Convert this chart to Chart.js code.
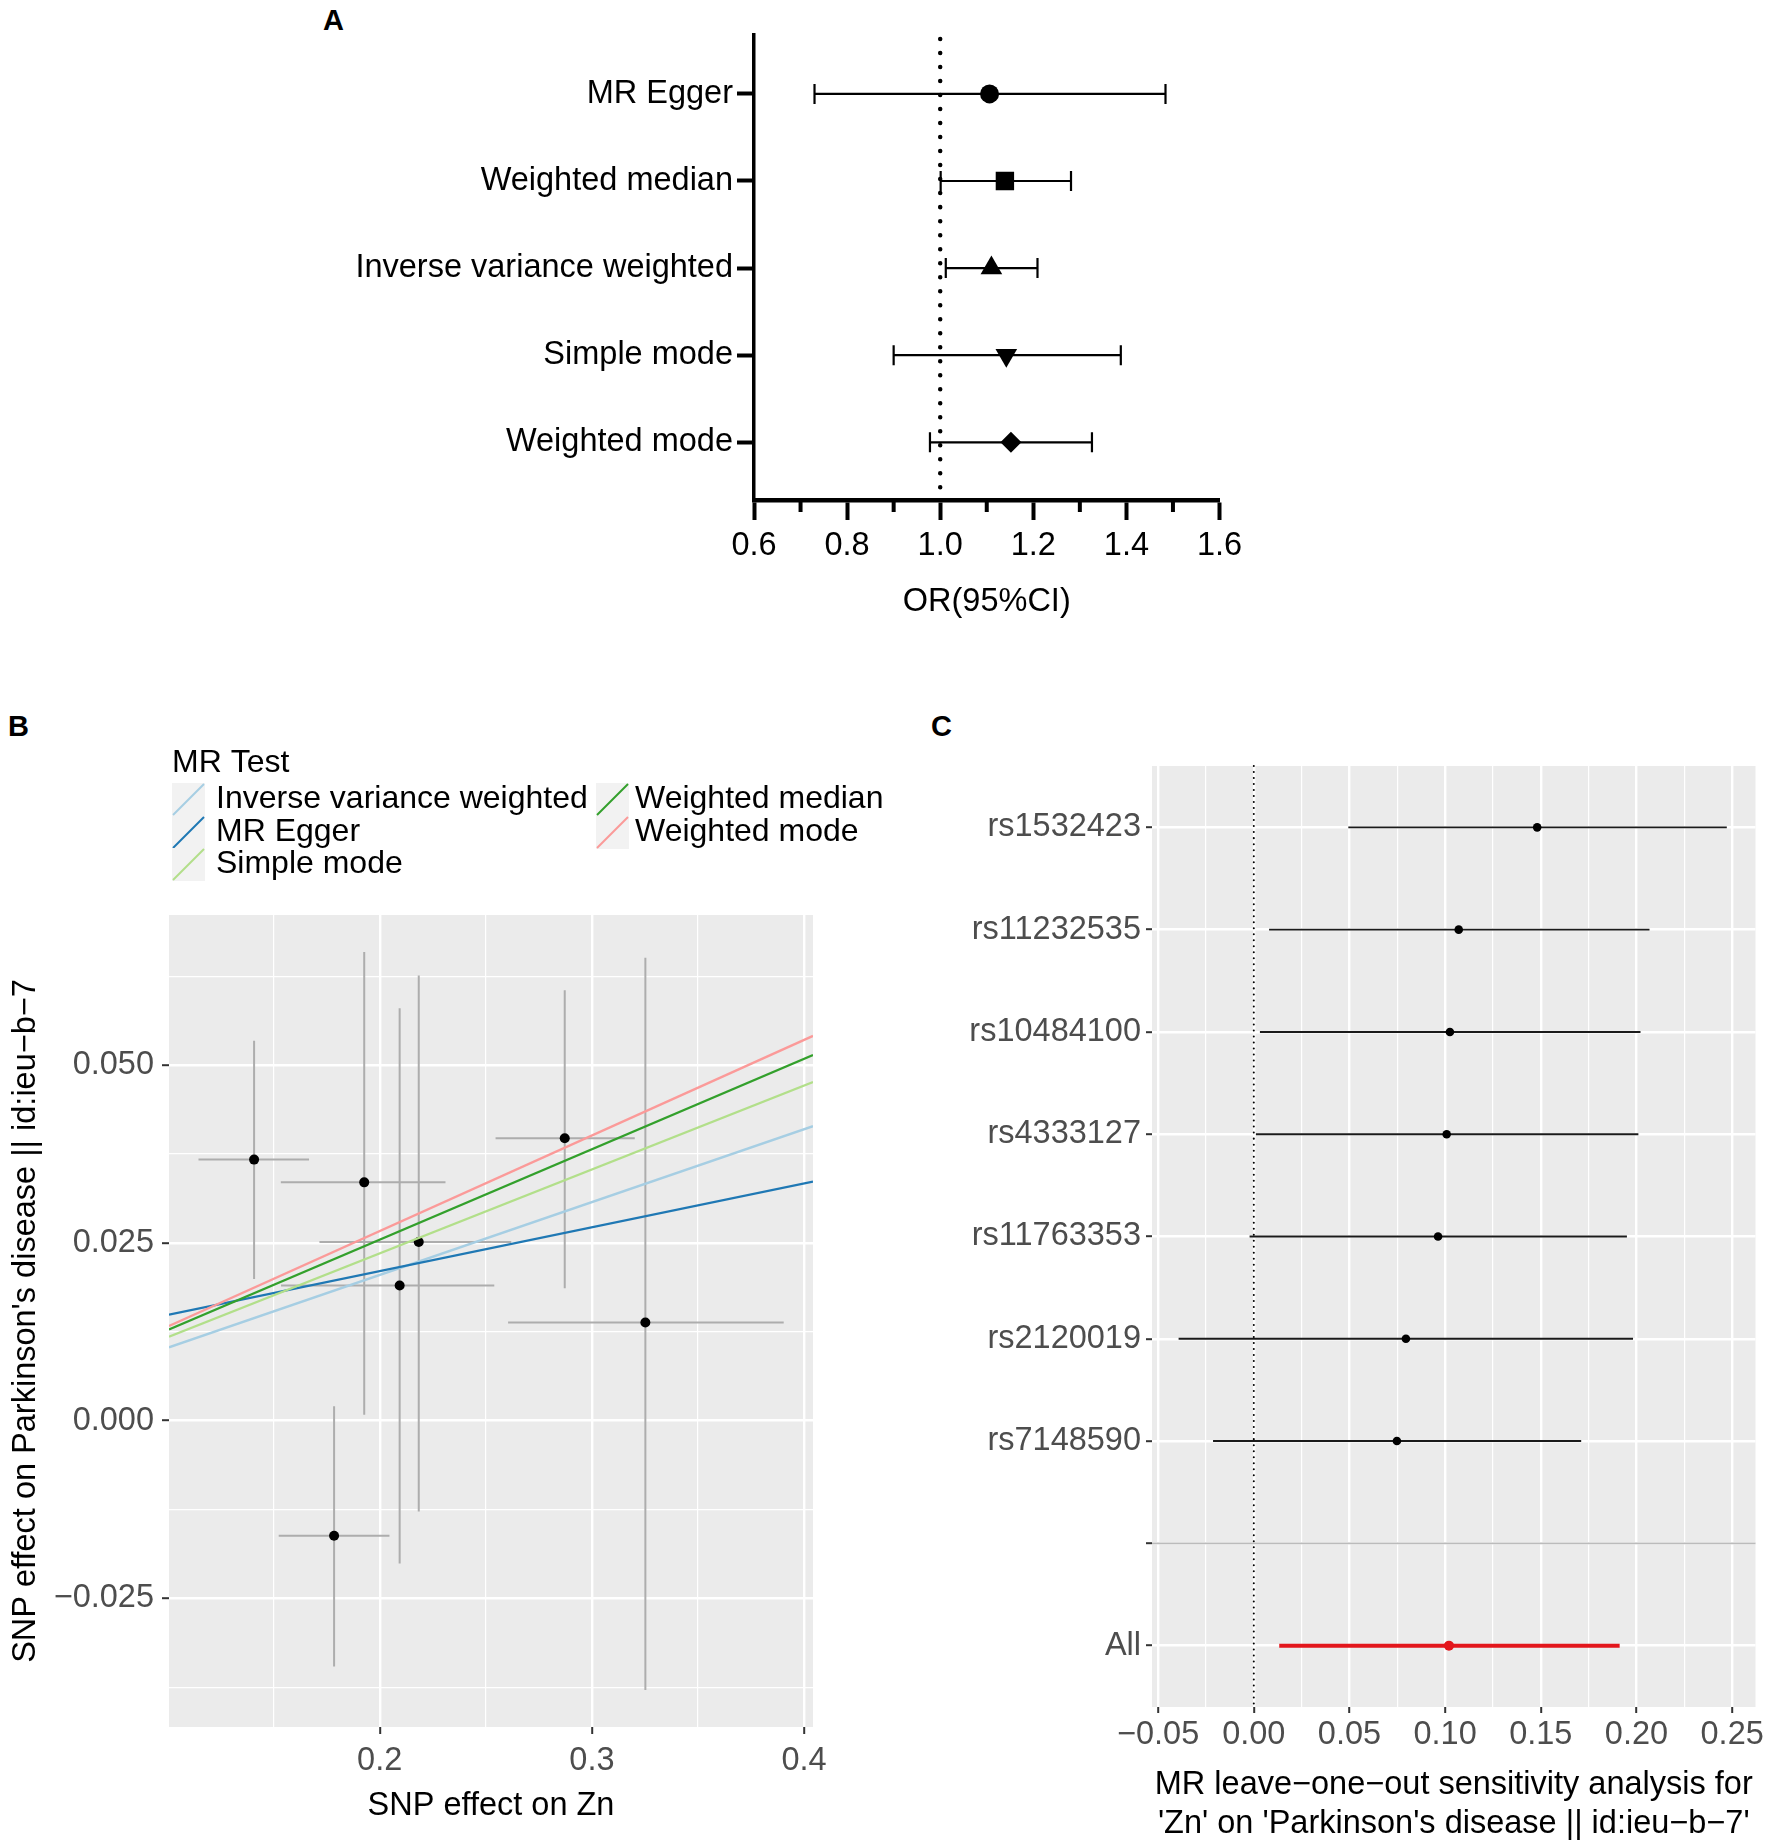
<!DOCTYPE html>
<html lang="en">
<head>
    <meta charset="UTF-8">
    <title>MR analysis: Zn on Parkinson's disease</title>
    <script src="https://cdn.jsdelivr.net/npm/chart.js"></script>
    <style>
        body { margin: 0; background: #fff; width: 1778px; height: 1845px; position: relative; overflow: hidden; }
        canvas { position: absolute; }
        .tag { position: absolute; font: bold 29px "Liberation Sans", Arial, sans-serif; line-height: 30px; }
    </style>
</head>
<body>
    <div class="tag" style="left:323px;top:5px">A</div>
    <div class="tag" style="left:8px;top:711px">B</div>
    <div class="tag" style="left:931px;top:711px">C</div>
    <canvas id="chartA" width="1300" height="660" style="left:0;top:0"></canvas>
    <canvas id="chartB" width="900" height="1145" style="left:0;top:700px"></canvas>
    <canvas id="chartC" width="878" height="1145" style="left:900px;top:700px"></canvas>

    <script>
        // ---- panel A: forest plot of the five MR methods (OR, 95% CI)
        const aMethods = ["MR Egger", "Weighted median", "Inverse variance weighted", "Simple mode", "Weighted mode"];
        const aOR   = [1.106, 1.139, 1.110, 1.142, 1.152];
        const aLow  = [0.730, 1.001, 1.012, 0.900, 0.978];
        const aHigh = [1.484, 1.281, 1.209, 1.388, 1.326];
        const aShapes = ["circle", "rect", "triangle", "triangle", "rectRot"];
        const aRotation = [0, 0, 0, 180, 0];
        const aXTicks = [0.6, 0.8, 1.0, 1.2, 1.4, 1.6];
        const aXLabels = ["0.6", "0.8", "1.0", "1.2", "1.4", "1.6"];
        const aXMinor = [0.7, 0.9, 1.1, 1.3, 1.5];

        // ---- panel B: SNP scatter with method regression lines
        const bX    = [0.1408, 0.1927, 0.2184, 0.2094, 0.1785, 0.2872, 0.3252];
        const bY    = [0.0367, 0.0335, 0.0251, 0.0190, -0.0162, 0.0397, 0.0138];
        const bXLow = [0.1146, 0.1534, 0.1716, 0.1535, 0.1524, 0.2546, 0.2605];
        const bXHigh= [0.1667, 0.2310, 0.2620, 0.2540, 0.2046, 0.3202, 0.3904];
        const bYLow = [0.0199, 0.0008, -0.0128, -0.0201, -0.0346, 0.0186, -0.0379];
        const bYHigh= [0.0534, 0.0659, 0.0626, 0.0580, 0.0020, 0.0605, 0.0651];
        const bMethods = ["Inverse variance weighted", "MR Egger", "Simple mode", "Weighted median", "Weighted mode"];
        const bColors = ["#A6CEE3", "#1F78B4", "#B2DF8A", "#33A02C", "#FB9A99"];
        const bLineX = [0.1007, 0.4042];
        const bLineLeft  = [0.0103, 0.0149, 0.0118, 0.0128, 0.0133];
        const bLineRight = [0.0414, 0.0336, 0.0476, 0.0514, 0.0541];
        const bXMajor = [0.2, 0.3, 0.4];
        const bXMinor = [0.15, 0.25, 0.35];
        const bXLabels = ["0.2", "0.3", "0.4"];
        const bYMajor = [-0.025, 0, 0.025, 0.05];
        const bYMinor = [-0.0375, -0.0125, 0.0125, 0.0375, 0.0625];
        const bYLabels = ["\u22120.025", "0.000", "0.025", "0.050"];

        // ---- panel C: leave-one-out
        const cLabels = ["rs1532423", "rs11232535", "rs10484100", "rs4333127", "rs11763353", "rs2120019", "rs7148590", "", "All"];
        const cEst  = [0.1481, 0.1071, 0.1025, 0.1008, 0.0963, 0.0795, 0.0748, null, 0.1020];
        const cLow  = [0.0494, 0.0080, 0.0032, 0.0011, -0.0022, -0.0393, -0.0213, null, 0.0133];
        const cHigh = [0.2472, 0.2068, 0.2021, 0.2010, 0.1950, 0.1982, 0.1711, null, 0.1912];
        const cXMajor = [-0.05, 0, 0.05, 0.10, 0.15, 0.20, 0.25];
        const cXMinor = [-0.025, 0.025, 0.075, 0.125, 0.175, 0.225];
        const cXLabels = ["\u22120.05", "0.00", "0.05", "0.10", "0.15", "0.20", "0.25"];

        Chart.defaults.font.family = "'Liberation Sans', Arial, sans-serif";
        Chart.defaults.font.size = 32.5;
        Chart.defaults.animation = false;

        const isIn = (arr, v) => arr.some(a => Math.abs(a - v) < 1e-9);
        const setTicks = arr => (s => { s.ticks = arr.map(v => ({ value: v })); });

        // gray ggplot panel
        const panelBg = {
            id: "panelBg",
            beforeDraw(chart) {
                const a = chart.chartArea, ctx = chart.ctx;
                ctx.save();
                ctx.fillStyle = "#EBEBEB";
                ctx.fillRect(a.left, a.top, a.right - a.left, a.bottom - a.top);
                ctx.restore();
            }
        };

        // ================= A =================
        const forestA = {
            id: "forestA",
            beforeDatasetsDraw(chart) {
                const { ctx, chartArea: a, scales: { x, y } } = chart;
                ctx.save();
                // dotted line at OR = 1
                ctx.strokeStyle = "#000";
                ctx.lineWidth = 4.5;
                ctx.lineCap = "round";
                ctx.setLineDash([0.01, 14]);
                ctx.beginPath();
                ctx.moveTo(x.getPixelForValue(1.0), a.top + 4);
                ctx.lineTo(x.getPixelForValue(1.0), a.bottom);
                ctx.stroke();
                ctx.setLineDash([]);
                ctx.lineCap = "butt";
                // error bars
                ctx.lineWidth = 2.2;
                aMethods.forEach((m, i) => {
                    const py = y.getPixelForValue(i + 1);
                    const x0 = x.getPixelForValue(aLow[i]), x1 = x.getPixelForValue(aHigh[i]);
                    ctx.beginPath();
                    ctx.moveTo(x0, py); ctx.lineTo(x1, py);
                    ctx.moveTo(x0, py - 10); ctx.lineTo(x0, py + 10);
                    ctx.moveTo(x1, py - 10); ctx.lineTo(x1, py + 10);
                    ctx.stroke();
                });
                ctx.restore();
            },
            afterDraw(chart) {
                const { ctx, chartArea: a, scales: { x } } = chart;
                ctx.save();
                ctx.strokeStyle = "#000";
                ctx.lineWidth = 4;
                aXMinor.forEach(v => {
                    const px = x.getPixelForValue(v);
                    ctx.beginPath();
                    ctx.moveTo(px, a.bottom); ctx.lineTo(px, a.bottom + 12);
                    ctx.stroke();
                });
                ctx.restore();
            }
        };

        new Chart(document.getElementById("chartA"), {
            type: "scatter",
            data: {
                datasets: [{
                    data: aOR.map((v, i) => ({ x: v, y: i + 1 })),
                    pointStyle: aShapes,
                    rotation: aRotation,
                    pointRadius: [9.5, 13, 12.5, 12.5, 10.5],
                    backgroundColor: "#000",
                    borderColor: "#000",
                    borderWidth: 0
                }]
            },
            options: {
                responsive: false,
                devicePixelRatio: 1,
                layout: { padding: { top: 35, right: 80.5, left: 0, bottom: 0 } },
                plugins: { legend: { display: false }, tooltip: { enabled: false } },
                scales: {
                    x: {
                        type: "linear", min: 0.6, max: 1.6,
                        afterBuildTicks: setTicks(aXTicks),
                        afterFit: s => { s.height = 160; },
                        grid: { drawOnChartArea: false, tickLength: 20, tickWidth: 4, tickColor: "#000" },
                        border: { display: true, width: 4.5, color: "#000" },
                        ticks: { callback: (v, i) => aXLabels[i], color: "#000", padding: 7, autoSkip: false, maxRotation: 0 },
                        title: { display: true, text: "OR(95%CI)", color: "#000", padding: { top: 0, bottom: 38 } }
                    },
                    y: {
                        type: "linear", reverse: true, min: 0.324, max: 5.662,
                        afterBuildTicks: setTicks(aMethods.map((m, i) => i + 1)),
                        afterFit: s => { s.width = 754; },
                        grid: { drawOnChartArea: false, tickLength: 17, tickWidth: 4, tickColor: "#000" },
                        border: { display: true, width: 3.5, color: "#000" },
                        ticks: { callback: (v, i) => aMethods[i], color: "#000", padding: 4, autoSkip: false }
                    }
                }
            },
            plugins: [forestA]
        });

        // ================= B =================
        const scatterB = {
            id: "scatterB",
            beforeDatasetsDraw(chart) {
                const { ctx, scales: { x, y } } = chart;
                ctx.save();
                ctx.strokeStyle = "#ADADAD";
                ctx.lineWidth = 2;
                bX.forEach((v, i) => {
                    const px = x.getPixelForValue(v), py = y.getPixelForValue(bY[i]);
                    ctx.beginPath();
                    ctx.moveTo(px, y.getPixelForValue(bYLow[i])); ctx.lineTo(px, y.getPixelForValue(bYHigh[i]));
                    ctx.moveTo(x.getPixelForValue(bXLow[i]), py); ctx.lineTo(x.getPixelForValue(bXHigh[i]), py);
                    ctx.stroke();
                });
                ctx.restore();
            },
            afterDraw(chart) {
                // legend "MR Test"
                const ctx = chart.ctx;
                ctx.save();
                ctx.font = "32px 'Liberation Sans', Arial, sans-serif";
                ctx.fillStyle = "#000";
                ctx.textBaseline = "middle";
                ctx.fillText("MR Test", 172, 63);
                const rowsY = [99.5, 132.5, 164.5];
                const colX = [172, 596];
                const textGap = [44, 39];
                bMethods.forEach((m, i) => {
                    const col = i < 3 ? 0 : 1, row = i < 3 ? i : i - 3;
                    const kx = colX[col], ky = rowsY[row] - 16.5;
                    ctx.fillStyle = "#F2F2F2";
                    ctx.fillRect(kx, ky, 33, 33);
                    ctx.strokeStyle = bColors[i];
                    ctx.lineWidth = 2;
                    ctx.beginPath();
                    ctx.moveTo(kx + 1, ky + 32); ctx.lineTo(kx + 32, ky + 1);
                    ctx.stroke();
                    ctx.fillStyle = "#000";
                    ctx.fillText(m, kx + textGap[col], rowsY[row]);
                });
                ctx.restore();
            }
        };

        const bLineSets = bMethods.map((m, i) => ({
            label: m,
            data: [{ x: bLineX[0], y: bLineLeft[i] }, { x: bLineX[1], y: bLineRight[i] }],
            showLine: true,
            borderColor: bColors[i],
            borderWidth: 2.3,
            pointRadius: 0,
            order: 4 - i
        }));

        new Chart(document.getElementById("chartB"), {
            type: "scatter",
            data: {
                datasets: bLineSets.concat([{
                    label: "SNPs",
                    data: bX.map((v, i) => ({ x: v, y: bY[i] })),
                    pointRadius: 5,
                    backgroundColor: "#000",
                    borderWidth: 0,
                    order: 10
                }])
            },
            options: {
                responsive: false,
                devicePixelRatio: 1,
                layout: { padding: { top: 215, right: 87, left: 0, bottom: 0 } },
                plugins: { legend: { display: false }, tooltip: { enabled: false } },
                scales: {
                    x: {
                        type: "linear", min: 0.1007, max: 0.4042,
                        afterBuildTicks: setTicks(bXMinor.concat(bXMajor)),
                        afterFit: s => { s.height = 118; },
                        grid: {
                            color: "#FFFFFF",
                            lineWidth: c => isIn(bXMajor, c.tick.value) ? 2.4 : 1.2,
                            tickColor: c => isIn(bXMajor, c.tick.value) ? "#333333" : "rgba(0,0,0,0)",
                            tickLength: 7, tickWidth: 2
                        },
                        border: { display: false },
                        ticks: {
                            callback: v => { const k = bXMajor.findIndex(a => Math.abs(a - v) < 1e-9); return k < 0 ? "" : bXLabels[k]; },
                            color: "#4D4D4D", padding: 8, autoSkip: false, maxRotation: 0
                        },
                        title: { display: true, text: "SNP effect on Zn", color: "#000", padding: { top: 0, bottom: 19 } }
                    },
                    y: {
                        type: "linear", min: -0.0431, max: 0.0711,
                        afterBuildTicks: setTicks(bYMinor.concat(bYMajor)),
                        afterFit: s => { s.width = 169; },
                        grid: {
                            color: "#FFFFFF",
                            lineWidth: c => isIn(bYMajor, c.tick.value) ? 2.4 : 1.2,
                            tickColor: c => isIn(bYMajor, c.tick.value) ? "#333333" : "rgba(0,0,0,0)",
                            tickLength: 7, tickWidth: 2
                        },
                        border: { display: false },
                        ticks: {
                            callback: v => { const k = bYMajor.findIndex(a => Math.abs(a - v) < 1e-9); return k < 0 ? "" : bYLabels[k]; },
                            color: "#4D4D4D", padding: 8, autoSkip: false
                        },
                        title: { display: true, text: "SNP effect on Parkinson's disease || id:ieu\u2212b\u22127", color: "#000", padding: { top: 7, bottom: 0 } }
                    }
                }
            },
            plugins: [panelBg, scatterB]
        });

        // ================= C =================
        const looC = {
            id: "looC",
            beforeDatasetsDraw(chart) {
                const { ctx, scales: { x, y } } = chart;
                ctx.save();
                cLabels.forEach((lab, i) => {
                    if (cEst[i] === null) return;
                    const py = y.getPixelForValue(i + 1);
                    const all = lab === "All";
                    ctx.strokeStyle = all ? "#E3161C" : "#1A1A1A";
                    ctx.lineWidth = all ? 4 : 1.9;
                    ctx.beginPath();
                    ctx.moveTo(x.getPixelForValue(cLow[i]), py);
                    ctx.lineTo(x.getPixelForValue(cHigh[i]), py);
                    ctx.stroke();
                });
                ctx.restore();
            },
            afterDatasetsDraw(chart) {
                const { ctx, chartArea: a, scales: { x, y } } = chart;
                ctx.save();
                // separator at the blank row
                const blank = cLabels.indexOf("") + 1;
                ctx.strokeStyle = "#BBBBBB";
                ctx.lineWidth = 1.6;
                ctx.beginPath();
                ctx.moveTo(a.left, y.getPixelForValue(blank));
                ctx.lineTo(a.right, y.getPixelForValue(blank));
                ctx.stroke();
                // dotted zero line
                ctx.strokeStyle = "#000";
                ctx.lineWidth = 2;
                ctx.lineCap = "round";
                ctx.setLineDash([0.01, 6]);
                ctx.beginPath();
                ctx.moveTo(x.getPixelForValue(0), a.top);
                ctx.lineTo(x.getPixelForValue(0), a.bottom);
                ctx.stroke();
                ctx.restore();
            }
        };

        const cRows = [], cColors = [], cRadius = [];
        cLabels.forEach((lab, i) => {
            if (cEst[i] === null) return;
            cRows.push({ x: cEst[i], y: i + 1 });
            cColors.push(lab === "All" ? "#E3161C" : "#000");
            cRadius.push(lab === "All" ? 5 : 4.3);
        });

        new Chart(document.getElementById("chartC"), {
            type: "scatter",
            data: {
                datasets: [{
                    data: cRows,
                    backgroundColor: cColors,
                    pointRadius: cRadius,
                    borderWidth: 0
                }]
            },
            options: {
                responsive: false,
                devicePixelRatio: 1,
                layout: { padding: { top: 66, right: 22.5, left: 0, bottom: 0 } },
                plugins: { legend: { display: false }, tooltip: { enabled: false } },
                scales: {
                    x: {
                        type: "linear", min: -0.0532, max: 0.2622,
                        afterBuildTicks: setTicks(cXMinor.concat(cXMajor)),
                        afterFit: s => { s.height = 138; },
                        grid: {
                            color: "#FFFFFF",
                            lineWidth: c => isIn(cXMajor, c.tick.value) ? 2.4 : 1.2,
                            tickColor: c => isIn(cXMajor, c.tick.value) ? "#333333" : "rgba(0,0,0,0)",
                            tickLength: 6, tickWidth: 2
                        },
                        border: { display: false },
                        ticks: {
                            callback: v => { const k = cXMajor.findIndex(a => Math.abs(a - v) < 1e-9); return k < 0 ? "" : cXLabels[k]; },
                            color: "#4D4D4D", padding: 3, autoSkip: false, maxRotation: 0
                        },
                        title: {
                            display: true,
                            text: ["MR leave\u2212one\u2212out sensitivity analysis for", "'Zn' on 'Parkinson's disease || id:ieu\u2212b\u22127'"],
                            color: "#000",
                            font: { size: 32.5, lineHeight: 1.18 },
                            padding: { top: 0, bottom: 2 }
                        }
                    },
                    y: {
                        type: "linear", reverse: true, min: 0.4, max: 9.6,
                        afterBuildTicks: setTicks(cLabels.map((l, i) => i + 1)),
                        afterFit: s => { s.width = 252; },
                        grid: { color: "#FFFFFF", lineWidth: 2.4, tickColor: "#333333", tickLength: 6, tickWidth: 2 },
                        border: { display: false },
                        ticks: { callback: (v, i) => cLabels[i], color: "#4D4D4D", padding: 5, autoSkip: false }
                    }
                }
            },
            plugins: [panelBg, looC]
        });
    </script>
</body>
</html>
